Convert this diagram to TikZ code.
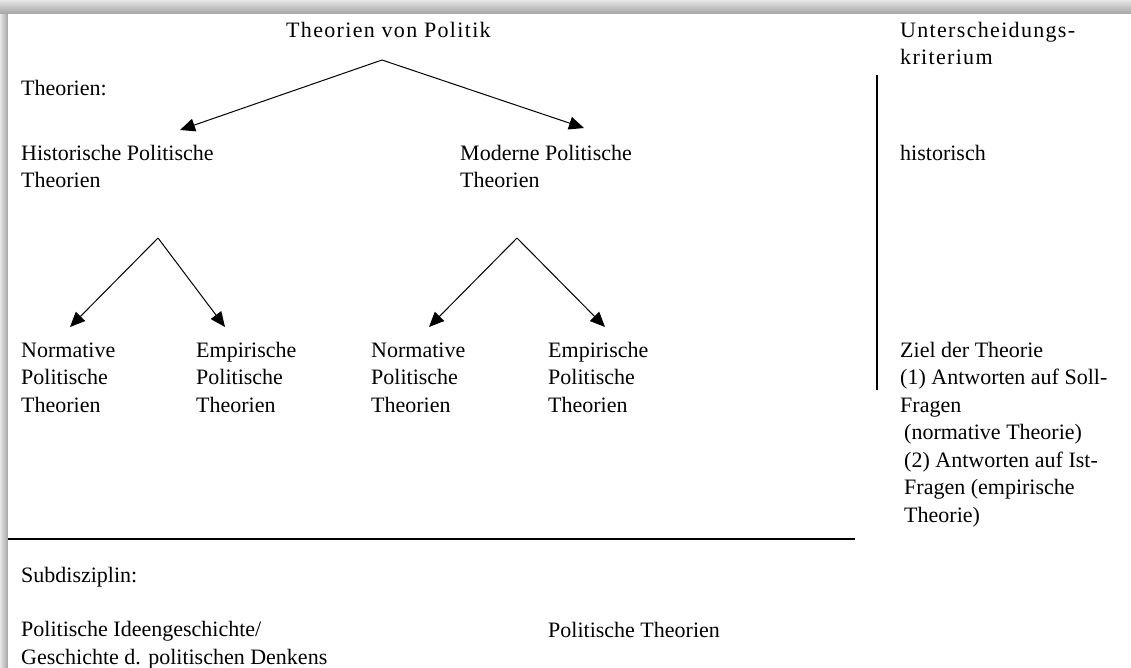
\documentclass[tikz,border=0pt]{standalone}
\usepackage{fontspec}
\setmainfont{Liberation Serif}
\usetikzlibrary{arrows.meta}
\begin{document}
\begin{tikzpicture}[x=1pt,y=-1pt,
  lbl/.style={anchor=base west, inner sep=0pt, font=\fontsize{22}{27.5}\selectfont, align=left},
  wide/.style={font=\fontsize{22}{27.5}\selectfont\addfontfeature{LetterSpace=6}},
  conn/.style={line width=1pt, -{Triangle[length=15pt,width=13pt]}},
  rule/.style={line width=1.4pt}]
\useasboundingbox (0,0) rectangle (1131,667);
% shadow frame
\shade[top color=black!10, bottom color=black!36] (0,0) rectangle (1131,14);
\shade[left color=black!10, right color=black!36] (0,14) rectangle (8,667);
\fill[white] (8,14) rectangle (1131,667);

% texts (anchored at the baseline of their last line)
\node[lbl, wide] (top) at (286,37) {Theorien von Politik};
\node[lbl] (theorien) at (21,95) {Theorien:};
\node[lbl] (hist) at (21,187.5) {Historische Politische\\Theorien};
\node[lbl] (mod) at (460,187.5) {Moderne Politische\\Theorien};
\node[lbl] (n1) at (21,412) {Normative\\Politische\\Theorien};
\node[lbl] (e1) at (196,412) {Empirische\\Politische\\Theorien};
\node[lbl] (n2) at (371,412) {Normative\\Politische\\Theorien};
\node[lbl] (e2) at (548,412) {Empirische\\Politische\\Theorien};
\node[lbl, wide] (krit) at (900,64.5) {Unterscheidungs-\\kriterium};
\node[lbl] (histor) at (900,160) {historisch};
\node[lbl] (ziel) at (900,522) {Ziel der Theorie\\(1) Antworten auf Soll-\\Fragen\\\hspace*{4pt}(normative Theorie)\\\hspace*{4pt}(2) Antworten auf Ist-\\\hspace*{4pt}Fragen (empirische\\\hspace*{4pt}Theorie)};
\node[lbl] (sub) at (21,582) {Subdisziplin:};
\node[lbl] (idee) at (21,664) {Politische Ideengeschichte/\\Geschichte d. politischen Denkens};
\node[lbl] (pt) at (548,637) {Politische Theorien};

% connector points
\coordinate (a0) at (382,60);
\coordinate (t1) at (180,130);
\coordinate (t2) at (584,128);
\coordinate (a1) at (158,238);
\coordinate (t11) at (70,327);
\coordinate (t12) at (225,327);
\coordinate (a2) at (517,238);
\coordinate (t21) at (429,327);
\coordinate (t22) at (605,327);

\draw[conn] (a0) -- (t1);
\draw[conn] (a0) -- (t2);
\draw[conn] (a1) -- (t11);
\draw[conn] (a1) -- (t12);
\draw[conn] (a2) -- (t21);
\draw[conn] (a2) -- (t22);

% rules
\coordinate (v1) at (877,75);
\coordinate (v2) at (877,390);
\draw[rule] (v1) -- (v2);
\coordinate (h1) at (8,539);
\coordinate (h2) at (855,539);
\draw[rule] (h1) -- (h2);
\end{tikzpicture}
\end{document}
